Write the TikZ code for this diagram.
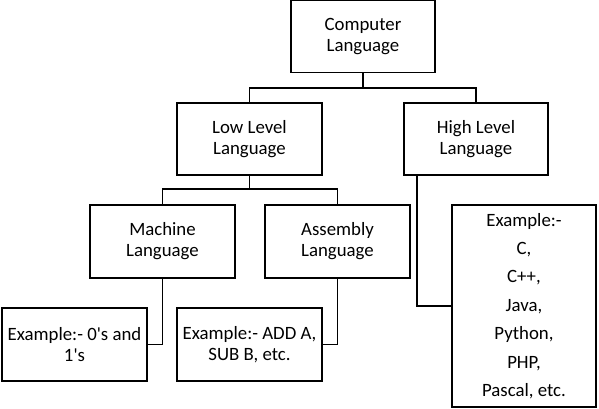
\documentclass[tikz,border=0pt]{standalone}
\usepackage{fontspec}
\setmainfont{Carlito}
\usetikzlibrary{calc}
\begin{document}
\begin{tikzpicture}[x=1pt,y=-1pt,
  box/.style={draw,line width=1.6pt,inner sep=0pt,align=center,
    font=\fontsize{18.8}{21}\selectfont},
  link/.style={line width=1.5pt}]
\useasboundingbox (0,0) rectangle (599,409);
\node[box,minimum width=144,minimum height=72] (cl) at (363,36.5) {Computer\\Language};
\node[box,minimum width=145,minimum height=72] (ll) at (249.5,139) {Low Level\\Language};
\node[box,minimum width=144,minimum height=72] (hl) at (476,139) {High Level\\Language};
\node[box,minimum width=145,minimum height=73] (ml) at (162.5,241.5) {Machine\\Language};
\node[box,minimum width=145,minimum height=73] (al) at (337.5,241.5) {Assembly\\Language};
\node[box,minimum width=145,minimum height=73] (me) at (74.5,344.5) {Example:- 0\textquotesingle s and\\1\textquotesingle s};
\node[box,minimum width=145,minimum height=73] (ae) at (249.5,344.5) {Example:- ADD A,\\SUB B, etc.};
\node[box,minimum width=144,minimum height=202,font=\fontsize{18.8}{28.4}\selectfont] (ex) at (524,306)
  {Example:-\\C,\\C++,\\Java,\\Python,\\PHP,\\Pascal, etc.};
\draw[link] (cl.south) -- ++(0,14.5) coordinate (j1);
\draw[link] (ll.north) |- (j1) -| (hl.north);
\draw[link] (ll.south) -- ++(0,13) coordinate (j2);
\draw[link] (ml.north) |- (j2) -| (al.north);
\draw[link] (ml.south) |- (me.east);
\draw[link] (al.south) |- (ae.east);
\draw[link] ($(hl.south west)+(14,0)$) |- (ex.west);
\end{tikzpicture}
\end{document}
